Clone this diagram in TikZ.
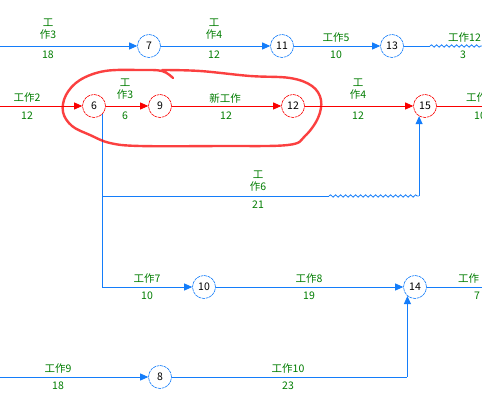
\documentclass[tikz,border=0pt]{standalone}
\usepackage{fontspec}
\setmainfont{Noto Sans CJK SC}
\usetikzlibrary{arrows.meta,decorations.pathmorphing}
\definecolor{nblue}{RGB}{20,125,250}
\definecolor{nred}{RGB}{250,0,0}
\definecolor{ngreen}{RGB}{0,125,0}
\begin{document}
\begin{tikzpicture}[x=1pt,y=-1pt,
 ev/.style={circle,draw,minimum size=23pt,inner sep=0pt,font=\fontsize{10.5}{10.5}\selectfont,dash pattern=on 3pt off 0.7pt,line width=0.6pt,fill=white},
 bev/.style={ev,draw=nblue},
 rev/.style={ev,draw=nred},
 lab/.style={text=ngreen,font=\fontsize{10.5}{12}\selectfont,inner sep=0pt,align=center},
 bl/.style={draw=nblue,line width=0.8pt},
 rl/.style={draw=nred,line width=0.8pt},
 tip/.style={-{Triangle[length=8pt,width=7pt]}},
 wavy/.style={decorate,decoration={snake,segment length=5pt,amplitude=1.2pt}},
]
\useasboundingbox (0,0) rectangle (482,403);
\fill[white] (0,0) rectangle (482,403);
\clip (0,0) rectangle (482,403);

% nodes
\node[bev] (n7) at (149,46) {7};
\node[bev] (n11) at (282,46) {11};
\node[bev] (n13) at (392,46) {13};
\node[rev] (n6) at (94,106) {6};
\node[rev] (n9) at (160,106) {9};
\node[rev] (n12) at (293,106) {12};
\node[rev] (n15) at (425,106) {15};
\node[bev] (n10) at (204,287) {10};
\node[bev] (n14) at (415,287) {14};
\node[bev] (n8) at (160,377) {8};

% free ends
\coordinate (a1) at (0,46);
\coordinate (a2) at (0,106);
\coordinate (a5) at (0,377);
\coordinate (e1) at (482,46);
\coordinate (w1) at (430,46);
\coordinate (e2) at (482,106);
\coordinate (e4) at (482,287);
\coordinate (k6) at (n6.south east |- 0,196);
\coordinate (w6) at (329,196);
\coordinate (c6) at (n15.-120 |- 0,196);
\coordinate (c8) at (n14.-130 |- 0,377);

% row 1
\draw[bl,tip] (a1) -- (n7);
\draw[bl,tip] (n7) -- (n11);
\draw[bl,tip] (n11) -- (n13);
\draw[bl] (n13) -- (w1);
\draw[bl,wavy] (w1) -- (e1);

% row 2 (critical)
\draw[rl,tip] (a2) -- (n6);
\draw[rl,tip] (n6) -- (n9);
\draw[rl,tip] (n9) -- (n12);
\draw[rl,tip] (n12) -- (n15);
\draw[rl] (n15) -- (e2);

% branches
\draw[bl] (n6.south east) -- (k6) -- (w6);
\draw[bl,wavy] (w6) -- (c6);
\draw[bl,tip] (c6) -- (n15.-120);
\draw[bl,tip] (k6) |- (n10);
\draw[bl,tip] (n10) -- (n14);
\draw[bl] (n14) -- (e4);
\draw[bl,tip] (a5) -- (n8);
\draw[bl] (n8) -- (c8);
\draw[bl,tip] (c8) -- (n14.-130);

% labels row 1
\node[lab] (t3) at (48,29) {工\\作3};
\node[lab] (d3) at (48,55) {18};
\node[lab] (t4) at (214,29) {工\\作4};
\node[lab] (d4) at (214,55) {12};
\node[lab] (t5) at (336,38) {工作5};
\node[lab] (d5) at (336,55) {10};
\node[lab,anchor=west] (t12) at (448,38) {工作12};
\node[lab] (d12) at (463,55) {3};

% labels row 2
\node[lab] (t2) at (27,98) {工作2};
\node[lab] (d2) at (27,116) {12};
\node[lab] (t3b) at (125,89) {工\\作3};
\node[lab] (d3b) at (125,116) {6};
\node[lab] (tn) at (225,98) {新工作};
\node[lab] (dn) at (226,116) {12};
\node[lab] (t4b) at (358,89) {工\\作4};
\node[lab] (d4b) at (358,116) {12};
\node[lab,anchor=west] (tr2) at (466,98) {工作};
\node[lab,anchor=west] (dr2) at (474,116) {10};

% labels row 3
\node[lab] (t6) at (258,181) {工\\作6};
\node[lab] (d6) at (258,205) {21};

% labels row 4
\node[lab] (t7) at (147,279) {工作7};
\node[lab] (d7) at (147,296) {10};
\node[lab] (t8) at (309,279) {工作8};
\node[lab] (d8) at (309,296) {19};
\node[lab,anchor=west] (tr4) at (458,279) {工作};
\node[lab] (dr4) at (477,296) {7};

% labels row 5
\node[lab] (t9) at (58,369) {工作9};
\node[lab] (d9) at (58,386) {18};
\node[lab] (t10) at (288,369) {工作10};
\node[lab] (d10) at (288,386) {23};

% hand-drawn red loop
\draw[nred,opacity=0.75,line width=2.4pt,line cap=round,line join=round]
  plot[smooth,tension=0.6] coordinates {(173,78) (162,71) (140,70) (105,71) (80,80) (66,95) (63,112) (72,126) (90,135) (110,143) (140,146) (220,146) (288,145) (305,136) (318,118) (321,100) (312,86) (290,78) (250,76) (200,71) (162,70)};
\end{tikzpicture}
\end{document}
